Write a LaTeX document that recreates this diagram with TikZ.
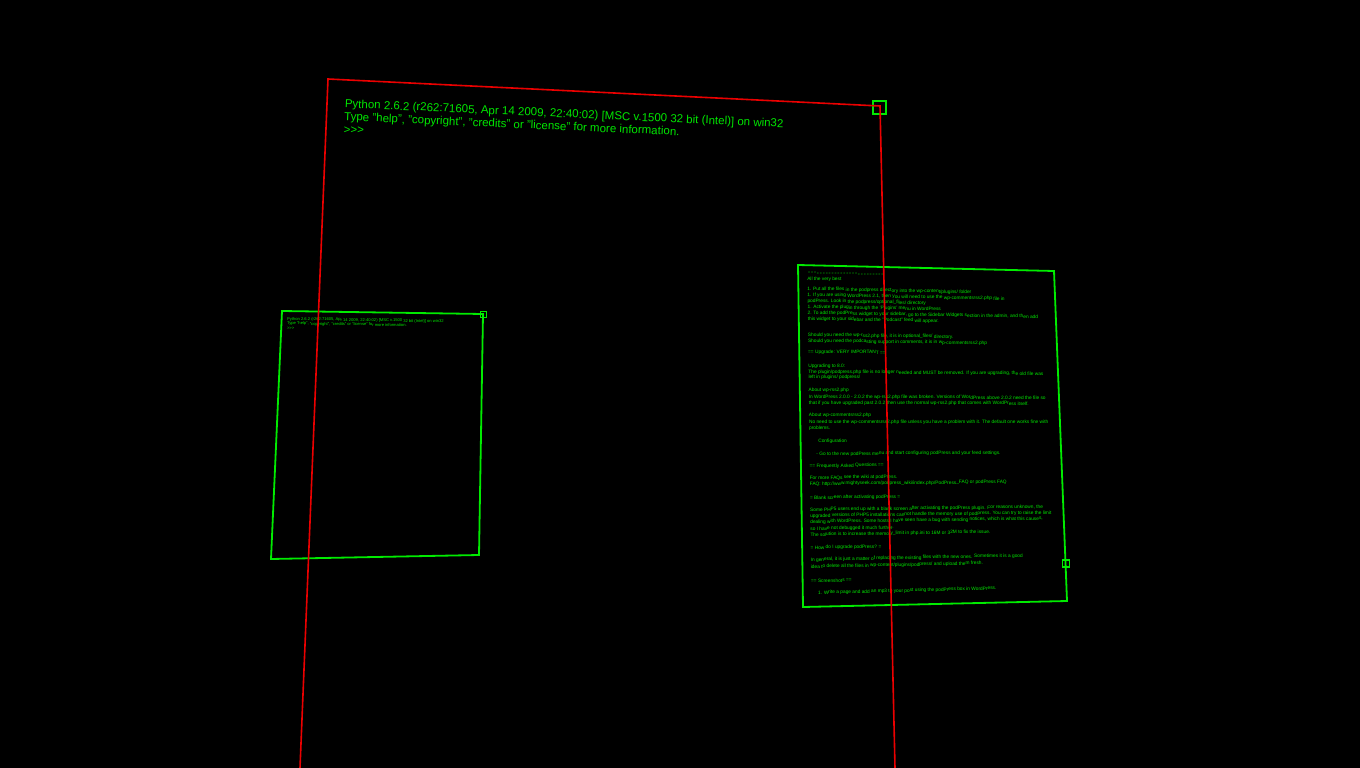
\documentclass[tikz,border=0pt]{standalone}
\usepackage{fontspec}
\setmainfont{Liberation Sans}
\definecolor{scrgreen}{RGB}{0,235,0}
\definecolor{txtgreen}{RGB}{0,230,0}
\definecolor{scrred}{RGB}{235,0,0}
\newcommand\rtline[4]{\node[tinytext,rotate={-1.35+(#2-273)*0.00872}] (#1) at ({807+(#2-273)*0.0125+#3},#2) {#4};}
\begin{document}
\begin{tikzpicture}[x=1pt,y=-1pt,
  redline/.style={draw=scrred,line width=1.6pt},
  panel/.style={draw=scrgreen,line width=1.8pt,line join=miter},
  marker/.style={draw=scrgreen,line width=1.4pt,inner sep=0pt,rectangle},
  bigtext/.style={text=txtgreen,font=\fontsize{11.5}{12.9}\selectfont,align=left,inner sep=0pt,anchor=north west},
  smalltext/.style={text=txtgreen,font=\fontsize{4.1}{4.5}\selectfont,align=left,inner sep=0pt,anchor=north west},
  tinytext/.style={text=txtgreen,font=\fontsize{4.8}{5}\selectfont,inner sep=0pt,anchor=west},
]
\fill[black] (0,0) rectangle (1360,768);
\useasboundingbox (0,0) rectangle (1360,768);
% corners
\coordinate (rBL) at (300,768);
\coordinate (rTL) at (328,79);
\coordinate (rTR) at (880,106);
\coordinate (rBR) at (895,768);
\coordinate (lTL) at (282,311);
\coordinate (lTR) at (483,314);
\coordinate (lBR) at (479,555);
\coordinate (lBL) at (271,559);
\coordinate (pTL) at (798,265);
\coordinate (pTR) at (1054,271);
\coordinate (pBR) at (1067,601);
\coordinate (pBL) at (803,607);
% panels
\draw[panel] (lTL) -- (lTR) -- (lBR) -- (lBL) -- cycle;
\draw[panel] (pTL) -- (pTR) -- (pBR) -- (pBL) -- cycle;
% main console text
\node[bigtext,rotate=-2.6] (py) at (345,99) {Python 2.6.2 (r262:71605, Apr 14 2009, 22:40:02) [MSC v.1500 32 bit (Intel)] on win32\\Type "help", "copyright", "credits" or "license" for more information.\\>{}>{}>};
% small console text
\node[smalltext,rotate=-0.9] (pysmall) at (287,317) {Python 2.6.2 (r262:71605, Apr 14 2009, 22:40:02) [MSC v.1500 32 bit (Intel)] on win32\\Type "help", "copyright", "credits" or "license" for more information.\\>{}>{}>};
% readme text
\node[tinytext,font=\fontsize{3.4}{4}\selectfont,rotate=-1.35] (r1) at (808,273) {= =   = = = = = = = = = =    = = = = = = = = = = = = = =};
\rtline{r2}{279}{0}{All the very best}
\rtline{r3}{289}{0}{1. Put all the files in the podpress directory into the wp-content/plugins/ folder}
\rtline{r4}{295}{0}{1. If you are using WordPress 2.1, then you will need to use the wp-commentsrss2.php file in}
\rtline{r5}{301}{0}{podPress. Look in the podpress/optional\_files/ directory}
\rtline{r6}{307}{0}{1. Activate the plugin through the 'Plugins' menu in WordPress}
\rtline{r7}{313}{0}{2. To add the podPress widget to your sidebar, go to the Sidebar Widgets section in the admin, and then add}
\rtline{r8}{319}{0}{this widget to your sidebar and the "Podcast" feed will appear.}
\rtline{r9}{335}{0}{Should you need the wp-rss2.php file, it is in optional\_files/ directory.}
\rtline{r10}{341}{0}{Should you need the podcasting support in comments, it is in wp-commentsrss2.php}
\rtline{r11}{352}{0}{== Upgrade: VERY IMPORTANT ==}
\rtline{r12}{366}{0}{Upgrading to 8.0:}
\rtline{r13}{372}{0}{The plugin/podpress.php file is no longer needed and MUST be removed. If you are upgrading, the old file was}
\rtline{r14}{377}{0}{left in plugins/ podpress/}
\rtline{r15}{390}{0}{About wp-rss2.php}
\rtline{r16}{397}{0}{In WordPress 2.0.0 - 2.0.2 the wp-rss2.php file was broken. Versions of WordPress above 2.0.2 need the file so}
\rtline{r17}{403}{0}{that if you have upgraded past 2.0.2 then use the normal wp-rss2.php that comes with WordPress itself.}
\rtline{r18}{415}{0}{About wp-commentsrss2.php}
\rtline{r19}{422}{0}{No need to use the wp-commentsrss2.php file unless you have a problem with it. The default one works fine with}
\rtline{r20}{428}{0}{problems.}
\rtline{r21}{441}{9}{Configuration}
\rtline{r22}{454}{7}{- Go to the new podPress menu and start configuring podPress and your feed settings.}
\rtline{r23}{466}{0}{== Frequently Asked Questions ==}
\rtline{r24}{478}{0}{For more FAQs see the wiki at podPress.}
\rtline{r25}{484}{0}{FAQ: http://www.mightyseek.com/podpress\_wiki/index.php/PodPress\_FAQ or podPress FAQ}
\rtline{r26}{498}{0}{= Blank screen after activating podPress =}
\rtline{r27}{510}{0}{Some PHP5 users end up with a blank screen after activating the podPress plugin. For reasons unknown, the}
\rtline{r28}{516}{0}{upgraded versions of PHP5 installations cannot handle the memory use of podPress. You can try to raise the limit}
\rtline{r29}{522}{0}{dealing with WordPress. Some hosts I have seen have a bug with sending notices, which is what this causes,}
\rtline{r30}{529}{0}{so I have not debugged it much further.}
\rtline{r31}{535}{0}{The solution is to increase the memory\_limit in php.ini to 16M or 32M to fix the issue.}
\rtline{r32}{548}{0}{= How do I upgrade podPress? =}
\rtline{r33}{560}{0}{In general, it is just a matter of replacing the existing files with the new ones. Sometimes it is a good}
\rtline{r34}{567}{0}{idea to delete all the files in wp-content/plugins/podpress/ and upload them fresh.}
\rtline{r35}{581}{0}{== Screenshots ==}
\rtline{r36}{593}{7}{1. Write a page and add an mp3 to your post using the podPress box in WordPress.}
% markers
\node[marker,minimum size=13pt] (m1) at (879.5,107.5) {};
\node[marker,minimum size=5.5pt] (m2) at (483.5,314.5) {};
\node[marker,minimum size=7pt] (m3) at (1066,563.5) {};
% red frame
\draw[redline] (rBL) -- (rTL) -- (rTR) -- (rBR);
\end{tikzpicture}
\end{document}
